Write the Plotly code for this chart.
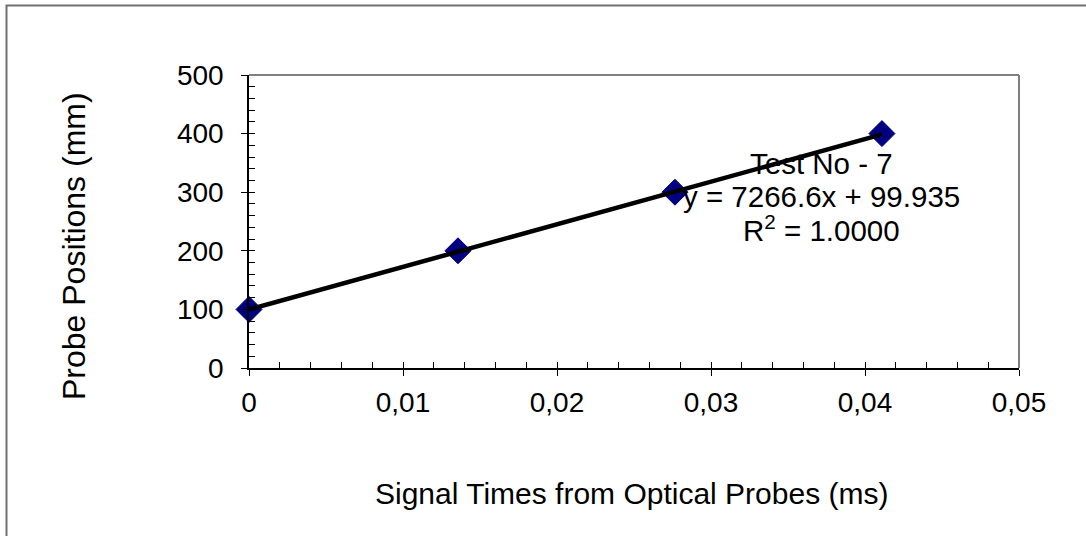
import plotly.graph_objects as go

# Data
signal_times = [0.0, 0.01357, 0.02766, 0.0411]
probe_positions = [100, 200, 300, 400]
slope = 7266.6
intercept = 99.935
x_range = [0, 0.05]
y_range = [0, 500]
annotation_lines = ["Test No - 7", "y = 7266.6x + 99.935", "R<sup>2</sup> = 1.0000"]
x_title = "Signal Times from Optical Probes (ms)"
y_title = "Probe Positions (mm)"

FONT = "Liberation Sans, Arial, sans-serif"
W, H = 1086, 536
L, R, T, B = 249, 1019, 75, 368

def px_to_paper_x(px):
    return (px - L) / (R - L)

def px_to_paper_y(py):
    return (B - py) / (B - T)

trend_x = [signal_times[0], signal_times[-1]]
trend_y = [slope * v + intercept for v in trend_x]

fig = go.Figure()
fig.add_trace(go.Scatter(
    x=signal_times, y=probe_positions, mode="markers",
    marker=dict(symbol="diamond", size=20, color="#000080",
                line=dict(color="#000080", width=1)),
    showlegend=False, cliponaxis=False))
fig.add_trace(go.Scatter(
    x=trend_x, y=trend_y, mode="lines",
    line=dict(color="black", width=4.5),
    showlegend=False, cliponaxis=False))
# empty trace for the overlay (inside-tick) axes
fig.add_trace(go.Scatter(x=[0], y=[0], xaxis="x2", yaxis="y2", mode="markers",
                         marker=dict(opacity=0), showlegend=False, hoverinfo="skip"))

axis_font = dict(family=FONT, size=28, color="black")

fig.update_layout(
    width=W, height=H,
    margin=dict(l=L, r=W - R, t=T, b=H - B, pad=0),
    paper_bgcolor="white", plot_bgcolor="white",
    separators=",.",
    font=dict(family=FONT, color="black"),
    xaxis=dict(range=x_range, dtick=0.01, tick0=0, showgrid=False, zeroline=False,
               showline=True, linecolor="black", linewidth=1.5,
               ticks="outside", ticklen=6, tickwidth=1, tickcolor="black",
               tickfont=axis_font, ticklabelstandoff=3),
    yaxis=dict(range=y_range, dtick=100, tick0=0, showgrid=False, zeroline=False,
               showline=True, linecolor="black", linewidth=1.5,
               ticks="outside", ticklen=6, tickwidth=1, tickcolor="black",
               tickfont=axis_font, ticklabelstandoff=12),
    xaxis2=dict(range=x_range, overlaying="x", anchor="y", side="bottom",
                dtick=0.002, tick0=0, showgrid=False, zeroline=False, showline=False,
                ticks="inside", ticklen=6, tickwidth=1, tickcolor="black",
                showticklabels=False),
    yaxis2=dict(range=y_range, overlaying="y", anchor="x", side="left",
                dtick=20, tick0=0, showgrid=False, zeroline=False, showline=False,
                ticks="inside", ticklen=6, tickwidth=1, tickcolor="black",
                showticklabels=False),
    shapes=[
        dict(type="line", xref="paper", yref="paper", x0=0, x1=1, y0=1, y1=1,
             line=dict(color="#808080", width=2)),
        dict(type="line", xref="paper", yref="paper", x0=1, x1=1, y0=0, y1=1,
             line=dict(color="#808080", width=2)),
        dict(type="rect", xref="paper", yref="paper",
             x0=px_to_paper_x(6.5), x1=px_to_paper_x(1100),
             y0=px_to_paper_y(560), y1=px_to_paper_y(5.5),
             line=dict(color="#707070", width=2), layer="below"),
    ],
)

ann_x = 0.0372
ann_ys = [349.8, 292.5, 238.0]
for text, yv in zip(annotation_lines, ann_ys):
    fig.add_annotation(x=ann_x, y=yv, xref="x", yref="y", text=text,
                       showarrow=False, font=dict(family=FONT, size=29.5, color="black"),
                       xanchor="center", yanchor="middle", height=33, valign="middle")

fig.add_annotation(x=px_to_paper_x(631), y=px_to_paper_y(493), xref="paper", yref="paper",
                   text=x_title, showarrow=False,
                   font=dict(family=FONT, size=30, color="black"),
                   xanchor="center", yanchor="middle")
fig.add_annotation(x=px_to_paper_x(74), y=px_to_paper_y(246), xref="paper", yref="paper",
                   text=y_title, showarrow=False, textangle=-90,
                   font=dict(family=FONT, size=32, color="black"),
                   xanchor="center", yanchor="middle")

fig.write_html("out.html")
